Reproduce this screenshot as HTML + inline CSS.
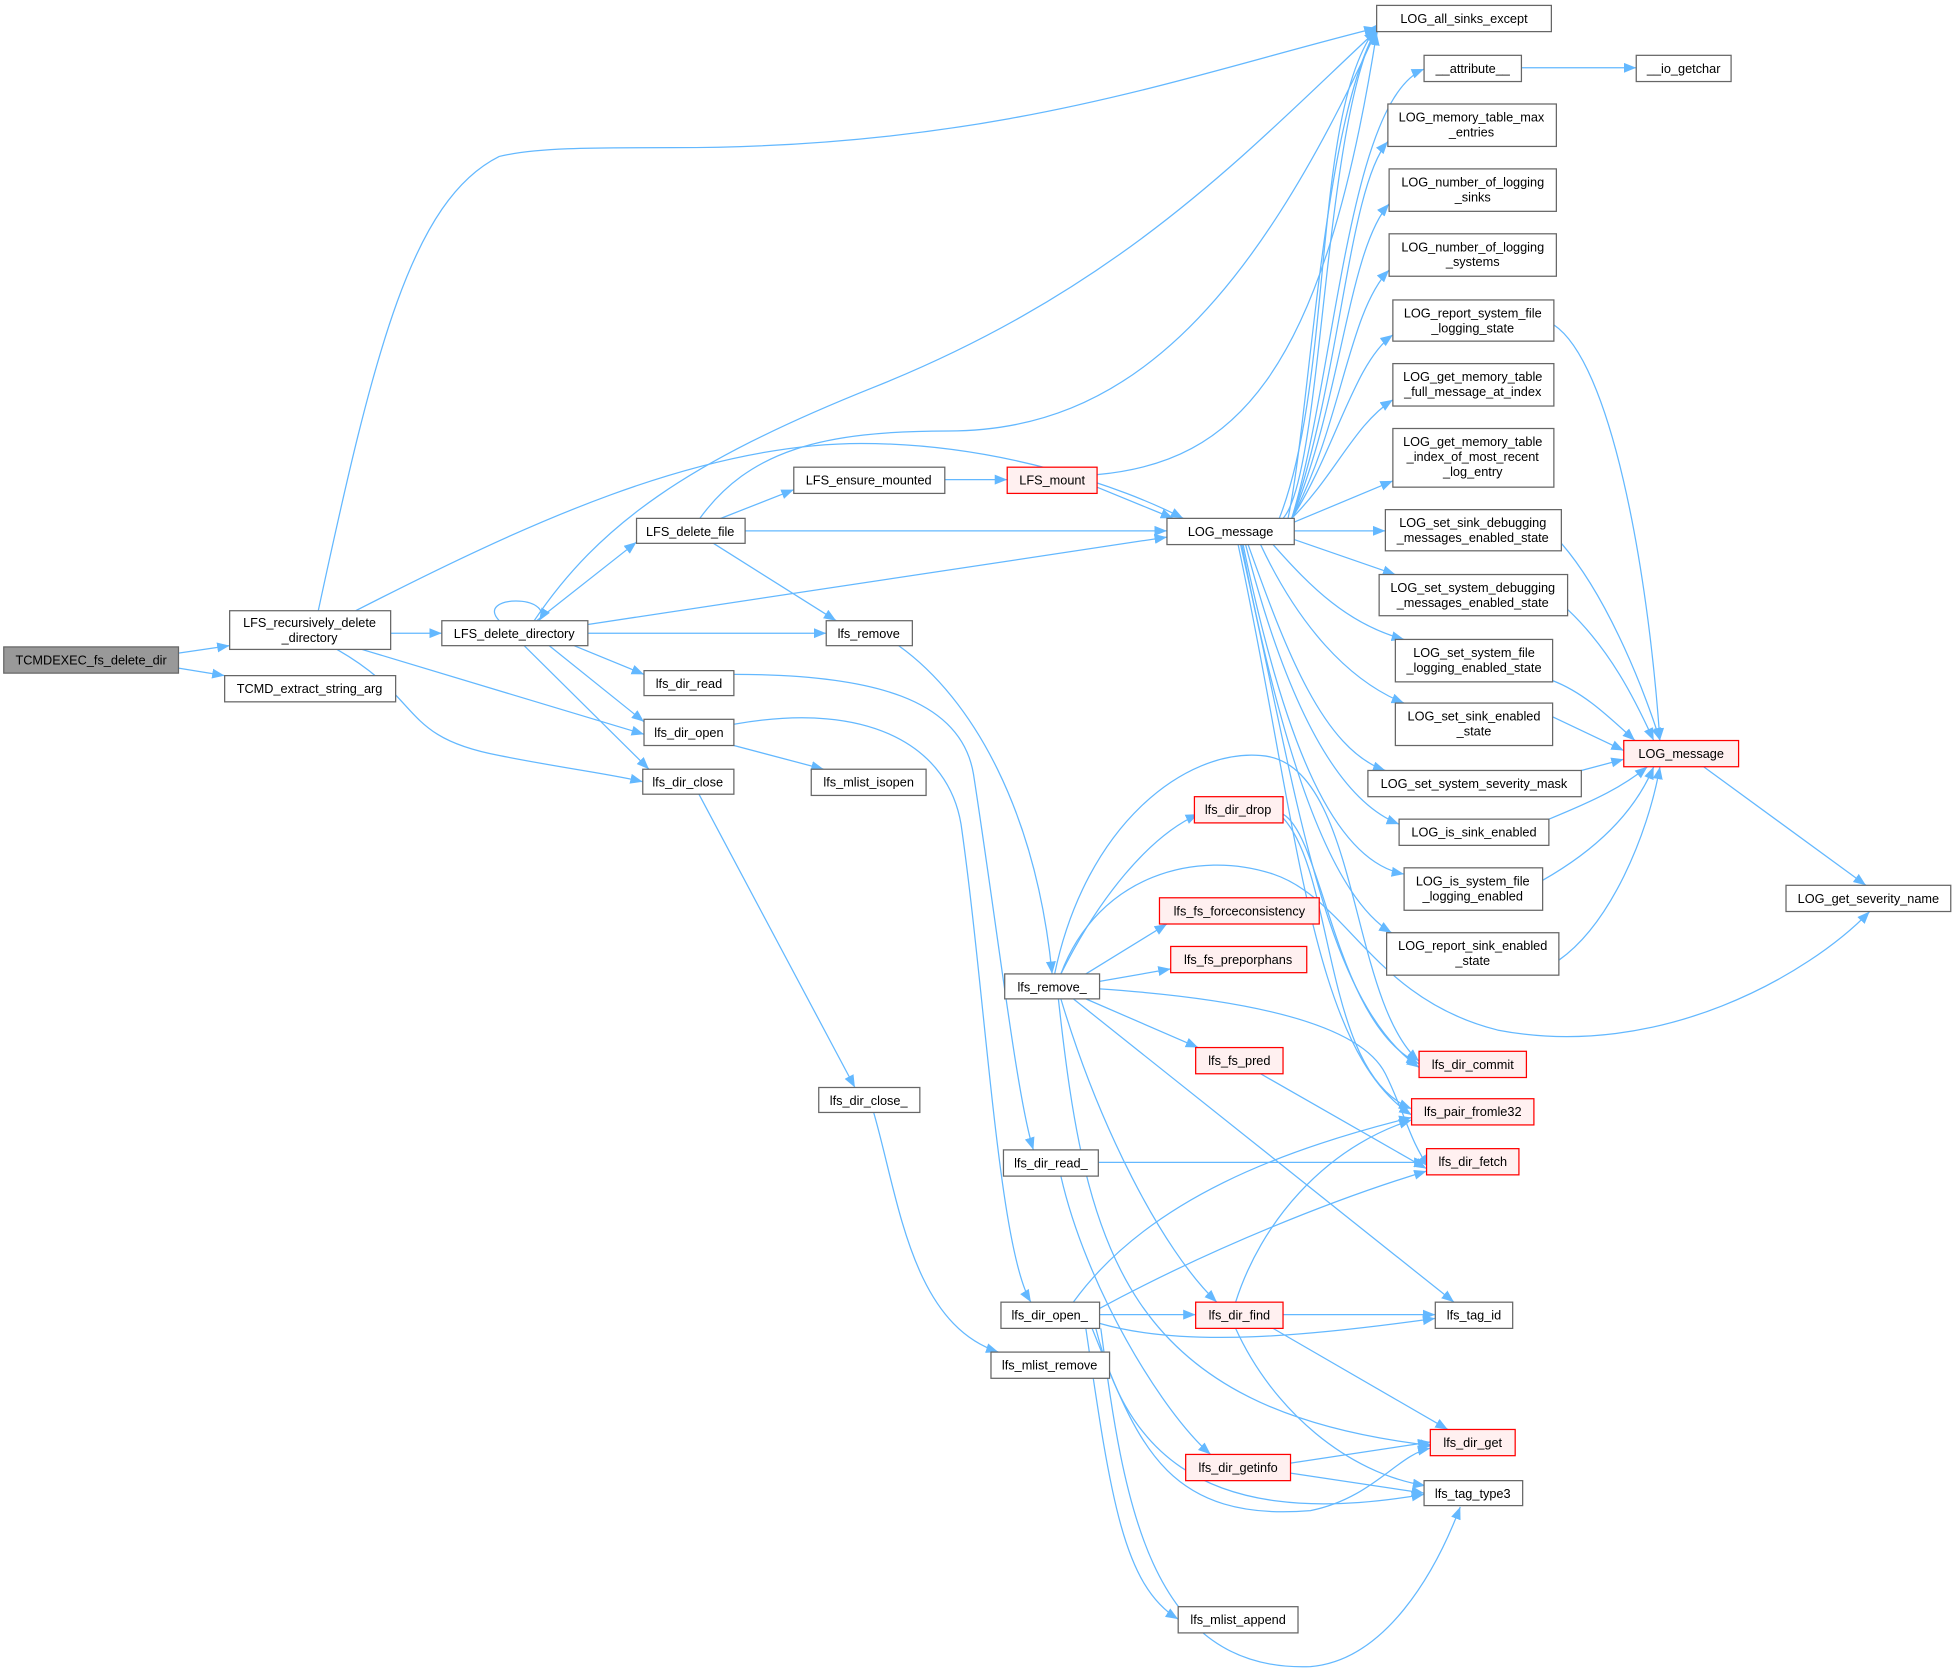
<!DOCTYPE html>
<html><head><meta charset="utf-8"><style>
html,body{margin:0;padding:0;background:#fff;}
svg{display:block;}
text{font-family:"Liberation Sans",Arial,sans-serif;font-size:10.2px;fill:#000;text-anchor:middle;}
.n{fill:#fff;stroke:#666;stroke-width:1;}
.r{fill:#fff0f0;stroke:#ff0000;stroke-width:1;}
.g{fill:#999;stroke:#666;stroke-width:1;}
path.e{fill:none;stroke:#63b8ff;stroke-width:1;marker-end:url(#a);}
</style></head><body>
<svg width="1957" height="1677" viewBox="0 0 1568 1343" xmlns="http://www.w3.org/2000/svg">
<defs><marker id="a" markerUnits="userSpaceOnUse" markerWidth="12" markerHeight="10" refX="10" refY="4" orient="auto"><path d="M0,0 L10,4 L0,8 z" fill="#63b8ff"/></marker></defs>
<g>
<path class="e" d="M143,523 L184,517"/>
<path class="e" d="M143,535 L180,541"/>
<path class="e" d="M313,507 L354,507"/>
<path class="e" d="M255,489 C300,280 330,160 400,125 C430,118 470,118 540,118 C800,118 950,60 1103,22"/>
<path class="e" d="M285,489 C420,420 560,355 690,355 C800,355 900,390 948,415"/>
<path class="e" d="M290,520 L516,588"/>
<path class="e" d="M270,520 C340,560 320,590 400,605 C450,615 490,620 515,626"/>
<path class="e" d="M400,497 C380,476 445,476 432,497"/>
<path class="e" d="M428,497 C480,420 550,370 700,310 C900,230 1000,120 1103,24"/>
<path class="e" d="M430,497 L510,434"/>
<path class="e" d="M471,500 L935,430"/>
<path class="e" d="M471,507 L662,507"/>
<path class="e" d="M460,517 L516,540"/>
<path class="e" d="M440,517 L516,578"/>
<path class="e" d="M420,517 L520,616"/>
<path class="e" d="M575,416 L636,392"/>
<path class="e" d="M597,425 L935,425"/>
<path class="e" d="M570,434 L670,497"/>
<path class="e" d="M560,416 C600,360 660,345 760,345 C900,345 1000,250 1103,24"/>
<path class="e" d="M757,384 L807,384"/>
<path class="e" d="M879,380 C990,370 1060,300 1103,26"/>
<path class="e" d="M879,390 L940,415"/>
<path class="e" d="M720,517 C780,560 830,650 843,780"/>
<path class="e" d="M588,540 C700,540 770,560 780,620 C800,750 815,880 828,921"/>
<path class="e" d="M588,580 C700,560 760,600 770,660 C790,800 800,1000 826,1043"/>
<path class="e" d="M588,597 L660,616"/>
<path class="e" d="M560,636 L685,871"/>
<path class="e" d="M700,891 C720,960 730,1060 800,1083"/>
<path class="e" d="M850,780 C880,720 920,670 960,652"/>
<path class="e" d="M850,780 C880,700 960,680 1020,700 C1080,720 1100,800 1200,825 C1330,850 1450,780 1498,730"/>
<path class="e" d="M845,780 C870,660 950,600 1010,605 C1090,610 1080,800 1137,850"/>
<path class="e" d="M870,780 L935,740"/>
<path class="e" d="M881,786 L938,776"/>
<path class="e" d="M870,800 L960,839"/>
<path class="e" d="M881,792 C1000,800 1090,820 1110,860 C1125,890 1130,915 1145,935"/>
<path class="e" d="M860,800 L1165,1043"/>
<path class="e" d="M850,800 C880,900 930,1000 975,1043"/>
<path class="e" d="M848,800 C870,1000 900,1130 1148,1158"/>
<path class="e" d="M1028,652 C1060,670 1070,820 1137,852"/>
<path class="e" d="M1028,655 C1070,700 1060,860 1131,888"/>
<path class="e" d="M1010,860 L1143,936"/>
<path class="e" d="M880,931 L1143,931"/>
<path class="e" d="M850,942 C870,1030 930,1130 970,1165"/>
<path class="e" d="M860,1043 C920,960 1030,920 1131,895"/>
<path class="e" d="M881,1048 C970,1000 1070,960 1143,938"/>
<path class="e" d="M881,1053 L958,1053"/>
<path class="e" d="M881,1060 C950,1080 1050,1070 1150,1056"/>
<path class="e" d="M875,1064 C910,1150 930,1220 1050,1210 C1100,1200 1120,1165 1146,1160"/>
<path class="e" d="M878,1064 C900,1150 950,1230 1141,1197"/>
<path class="e" d="M870,1064 C890,1200 900,1270 944,1297"/>
<path class="e" d="M882,1064 C900,1200 920,1340 1050,1335 C1110,1330 1150,1260 1170,1207"/>
<path class="e" d="M990,1043 C1010,980 1060,920 1131,897"/>
<path class="e" d="M1028,1053 L1150,1053"/>
<path class="e" d="M1020,1064 L1160,1145"/>
<path class="e" d="M990,1064 C1020,1130 1080,1180 1142,1190"/>
<path class="e" d="M1034,1172 L1146,1155"/>
<path class="e" d="M1034,1180 L1141,1196"/>
<path class="e" d="M1219,54 L1311,54"/>
<path class="e" d="M1028,415 C1060,380 1060,100 1103,22"/>
<path class="e" d="M1032,415 C1050,330 1060,90 1105,20"/>
<path class="e" d="M1025,415 C1070,300 1050,80 1106,18"/>
<path class="e" d="M1035,415 C1070,300 1080,80 1141,55"/>
<path class="e" d="M1035,415 C1075,300 1080,150 1112,113"/>
<path class="e" d="M1035,415 C1075,320 1080,200 1113,163"/>
<path class="e" d="M1035,415 C1075,340 1080,250 1113,216"/>
<path class="e" d="M1035,415 C1070,360 1085,290 1116,268"/>
<path class="e" d="M1035,415 C1070,380 1085,340 1116,320"/>
<path class="e" d="M1037,418 L1116,385"/>
<path class="e" d="M1037,425 L1110,425"/>
<path class="e" d="M1037,432 L1118,460"/>
<path class="e" d="M1020,436 C1050,470 1080,500 1125,512"/>
<path class="e" d="M1010,436 C1040,500 1080,545 1125,563"/>
<path class="e" d="M1000,436 C1030,520 1060,600 1110,617"/>
<path class="e" d="M998,436 C1030,560 1070,640 1121,660"/>
<path class="e" d="M996,436 C1030,600 1070,690 1125,700"/>
<path class="e" d="M995,436 C1030,620 1070,720 1115,747"/>
<path class="e" d="M994,436 C1040,640 1060,800 1137,855"/>
<path class="e" d="M992,436 C1040,660 1050,840 1131,893"/>
<path class="e" d="M1245,260 C1290,290 1320,450 1330,593"/>
<path class="e" d="M1251,435 C1290,480 1320,560 1330,593"/>
<path class="e" d="M1256,488 C1290,520 1310,560 1325,593"/>
<path class="e" d="M1244,545 C1270,555 1290,575 1310,593"/>
<path class="e" d="M1244,574 L1301,601"/>
<path class="e" d="M1267,617 L1301,608"/>
<path class="e" d="M1241,656 C1280,640 1300,630 1320,614"/>
<path class="e" d="M1236,705 C1280,680 1310,650 1325,614"/>
<path class="e" d="M1249,769 C1290,740 1320,670 1330,614"/>
<path class="e" d="M1365,614 L1495,709"/>
</g>
<g>
<rect class="g" x="3" y="518" width="140" height="21"/><text x="73" y="532">TCMDEXEC_fs_delete_dir</text>
<rect class="n" x="184" y="489" width="129" height="31"/><text x="248" y="502">LFS_recursively_delete</text><text x="248" y="514">_directory</text>
<rect class="n" x="180" y="541" width="137" height="21"/><text x="248" y="555">TCMD_extract_string_arg</text>
<rect class="n" x="354" y="497" width="117" height="20"/><text x="412" y="511">LFS_delete_directory</text>
<rect class="n" x="510" y="415" width="87" height="20"/><text x="553" y="429">LFS_delete_file</text>
<rect class="n" x="636" y="374" width="121" height="21"/><text x="696" y="388">LFS_ensure_mounted</text>
<rect class="r" x="807" y="374" width="72" height="21"/><text x="843" y="388">LFS_mount</text>
<rect class="n" x="935" y="415" width="102" height="21"/><text x="986" y="429">LOG_message</text>
<rect class="n" x="662" y="497" width="69" height="20"/><text x="696" y="511">lfs_remove</text>
<rect class="n" x="516" y="537" width="72" height="20"/><text x="552" y="551">lfs_dir_read</text>
<rect class="n" x="516" y="576" width="72" height="21"/><text x="552" y="590">lfs_dir_open</text>
<rect class="n" x="515" y="616" width="73" height="20"/><text x="551" y="630">lfs_dir_close</text>
<rect class="n" x="650" y="616" width="92" height="21"/><text x="696" y="630">lfs_mlist_isopen</text>
<rect class="n" x="1103" y="4" width="140" height="21"/><text x="1173" y="18">LOG_all_sinks_except</text>
<rect class="n" x="1141" y="44" width="78" height="21"/><text x="1180" y="58">__attribute__</text>
<rect class="n" x="1311" y="44" width="76" height="21"/><text x="1349" y="58">__io_getchar</text>
<rect class="n" x="1112" y="83" width="135" height="34"/><text x="1179" y="97">LOG_memory_table_max</text><text x="1179" y="109">_entries</text>
<rect class="n" x="1113" y="135" width="134" height="34"/><text x="1180" y="149">LOG_number_of_logging</text><text x="1180" y="161">_sinks</text>
<rect class="n" x="1113" y="187" width="134" height="34"/><text x="1180" y="201">LOG_number_of_logging</text><text x="1180" y="213">_systems</text>
<rect class="n" x="1116" y="240" width="129" height="33"/><text x="1180" y="254">LOG_report_system_file</text><text x="1180" y="266">_logging_state</text>
<rect class="n" x="1116" y="291" width="129" height="34"/><text x="1180" y="305">LOG_get_memory_table</text><text x="1180" y="317">_full_message_at_index</text>
<rect class="n" x="1116" y="343" width="129" height="47"/><text x="1180" y="357">LOG_get_memory_table</text><text x="1180" y="369">_index_of_most_recent</text><text x="1180" y="381">_log_entry</text>
<rect class="n" x="1110" y="408" width="141" height="33"/><text x="1180" y="422">LOG_set_sink_debugging</text><text x="1180" y="434">_messages_enabled_state</text>
<rect class="n" x="1105" y="460" width="151" height="33"/><text x="1180" y="474">LOG_set_system_debugging</text><text x="1180" y="486">_messages_enabled_state</text>
<rect class="n" x="1118" y="512" width="126" height="34"/><text x="1181" y="526">LOG_set_system_file</text><text x="1181" y="538">_logging_enabled_state</text>
<rect class="n" x="1118" y="563" width="126" height="34"/><text x="1181" y="577">LOG_set_sink_enabled</text><text x="1181" y="589">_state</text>
<rect class="n" x="1096" y="617" width="171" height="21"/><text x="1181" y="631">LOG_set_system_severity_mask</text>
<rect class="n" x="1121" y="656" width="120" height="21"/><text x="1181" y="670">LOG_is_sink_enabled</text>
<rect class="n" x="1125" y="695" width="111" height="34"/><text x="1180" y="709">LOG_is_system_file</text><text x="1180" y="721">_logging_enabled</text>
<rect class="n" x="1111" y="747" width="138" height="34"/><text x="1180" y="761">LOG_report_sink_enabled</text><text x="1180" y="773">_state</text>
<rect class="r" x="1301" y="593" width="92" height="21"/><text x="1347" y="607">LOG_message</text>
<rect class="n" x="1431" y="709" width="132" height="21"/><text x="1497" y="723">LOG_get_severity_name</text>
<rect class="r" x="957" y="638" width="71" height="21"/><text x="992" y="652">lfs_dir_drop</text>
<rect class="r" x="929" y="719" width="128" height="21"/><text x="993" y="733">lfs_fs_forceconsistency</text>
<rect class="r" x="938" y="758" width="109" height="21"/><text x="992" y="772">lfs_fs_preporphans</text>
<rect class="n" x="805" y="780" width="76" height="20"/><text x="843" y="794">lfs_remove_</text>
<rect class="r" x="958" y="839" width="70" height="21"/><text x="993" y="853">lfs_fs_pred</text>
<rect class="r" x="1137" y="842" width="86" height="21"/><text x="1180" y="856">lfs_dir_commit</text>
<rect class="r" x="1131" y="880" width="98" height="21"/><text x="1180" y="894">lfs_pair_fromle32</text>
<rect class="r" x="1143" y="920" width="74" height="21"/><text x="1180" y="934">lfs_dir_fetch</text>
<rect class="n" x="656" y="871" width="81" height="20"/><text x="696" y="885">lfs_dir_close_</text>
<rect class="n" x="804" y="921" width="76" height="21"/><text x="842" y="935">lfs_dir_read_</text>
<rect class="n" x="802" y="1043" width="79" height="21"/><text x="841" y="1057">lfs_dir_open_</text>
<rect class="r" x="958" y="1043" width="70" height="21"/><text x="993" y="1057">lfs_dir_find</text>
<rect class="n" x="1150" y="1043" width="62" height="21"/><text x="1181" y="1057">lfs_tag_id</text>
<rect class="n" x="794" y="1083" width="95" height="21"/><text x="841" y="1097">lfs_mlist_remove</text>
<rect class="r" x="1146" y="1145" width="68" height="21"/><text x="1180" y="1159">lfs_dir_get</text>
<rect class="r" x="950" y="1165" width="84" height="21"/><text x="992" y="1179">lfs_dir_getinfo</text>
<rect class="n" x="1141" y="1186" width="79" height="20"/><text x="1180" y="1200">lfs_tag_type3</text>
<rect class="n" x="944" y="1287" width="96" height="21"/><text x="992" y="1301">lfs_mlist_append</text>
</g>
</svg>
</body></html>
